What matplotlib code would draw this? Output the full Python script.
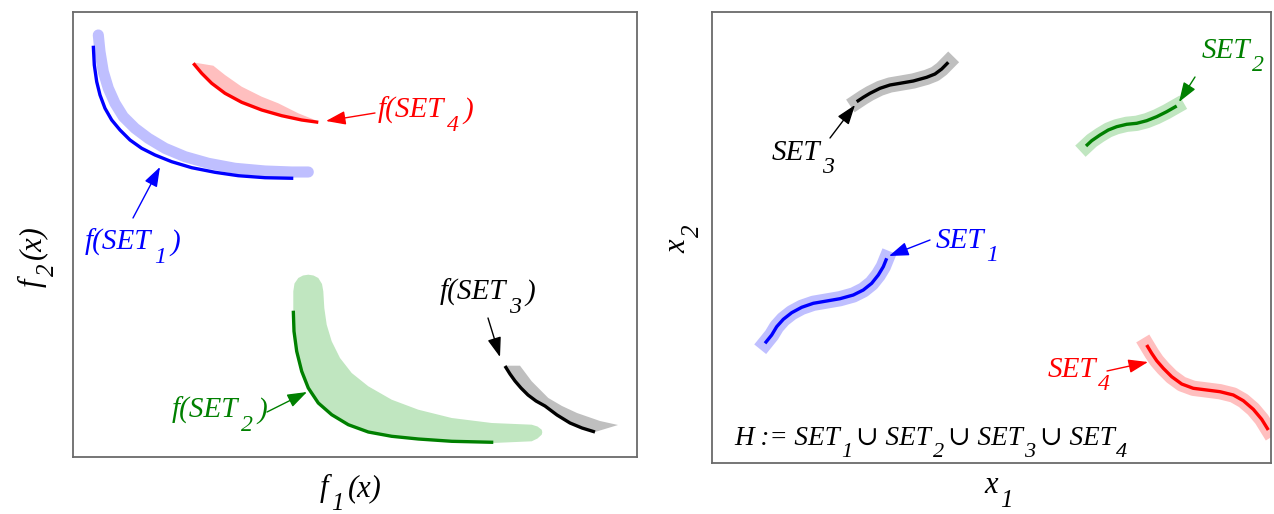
import matplotlib
matplotlib.use("Agg")
import matplotlib.pyplot as plt

FAM = ['Liberation Serif', 'DejaVu Serif']

# ---------------- data (pixel-like units) ----------------
# Left panel: objective space
fset1_x = [93.3, 94.3, 96.7, 100, 105, 111.7, 120, 130, 141.7, 155, 171.7, 191.7, 215, 238.3, 265, 293.3]
fset1_y = [45.7, 65, 81.7, 95, 108.3, 120, 130, 140, 148.3, 155, 161.7, 167.7, 172.3, 175.7, 177.7, 178.3]
fset1_band_x = [98.3, 100, 103.3, 108.3, 115, 123.3, 135, 148.3, 165, 185, 208.3, 235, 265, 291.7, 308.3]
fset1_band_y = [35, 51.7, 71.7, 88.3, 103.3, 116.7, 128.3, 138.3, 148.3, 156.7, 163.3, 168.3, 171, 172, 172]

fset4_x = [193.3, 201.7, 211.7, 225, 241.7, 261.7, 281.7, 301.7, 318.3]
fset4_y = [63.3, 73.3, 83.3, 93.3, 102.3, 110, 115.7, 120, 122.3]
fset4_band_x = [193.3, 195, 213.3, 225, 241.7, 261.7, 278.3, 298.3, 315, 318.3,
                301.7, 281.7, 261.7, 241.7, 225, 211.7, 201.7]
fset4_band_y = [63.3, 62.7, 65.7, 75, 86.7, 96.7, 103.3, 113.3, 120, 122.3,
                120, 115.7, 110, 102.3, 93.3, 83.3, 73.3]

fset2_x = [293.3, 294, 296.7, 301.7, 308.3, 318.3, 331.7, 348.3, 368.3, 391.7, 418.3, 451.7, 493.3]
fset2_y = [310.7, 331.3, 351.3, 371.3, 388, 403, 414.7, 424.7, 432, 436.3, 439, 441.3, 442.3]
fset2_band_x = [293.3, 294.5, 298.3, 303, 308.3, 313.5, 318.3, 322, 323.3, 324.3, 326.7, 331.7, 340,
                351.7, 368.3, 391.7, 418.3, 451.7, 491.7, 531.7, 537.5, 541.7, 542.3, 541.7, 537.5,
                531.7, 493.3, 451.7, 418.3, 391.7, 368.3, 348.3, 331.7, 318.3, 308.3, 301.7, 296.7,
                294, 293.3, 293.3]
fset2_band_y = [291.3, 283.5, 278, 275.5, 274.7, 275.5, 278, 284, 291.3, 308, 324.7, 341.3, 358,
                373, 386.3, 399.7, 409.7, 418, 423, 424.7, 426.5, 429.7, 432.2, 434.7, 438.5,
                441.3, 443, 442, 439.7, 437, 432.7, 425.3, 415.3, 403.7, 388.7, 372, 352,
                331.3, 311.3, 301.3]

fset3_x = [505, 510, 515, 521, 528, 536, 545, 557, 570, 582, 595]
fset3_y = [366, 374, 381, 388, 395, 401, 406, 415, 423, 428, 432]
fset3_band_x = [505, 506.7, 520, 531.7, 548.3, 562, 577, 600, 618, 595, 582, 570, 557, 545, 536, 528, 521, 515, 510]
fset3_band_y = [366, 365.7, 365.7, 381.3, 398, 406, 413, 421, 425, 432, 428, 423, 415, 406, 401, 395, 388, 381, 374]

# Right panel: decision space
set1_x = [765, 771.7, 776.7, 783.3, 791.7, 801.7, 813.3, 826.7, 840, 853.3, 863.3, 871.7, 878.3, 883.3, 886.7]
set1_y = [343.3, 335, 326.7, 319.3, 312.7, 307.3, 303.3, 301, 298.7, 295, 290, 283.3, 275, 266.7, 258.3]
set2_x = [1086, 1091.7, 1100, 1108.3, 1116.7, 1126.7, 1136.7, 1146.7, 1156.7, 1166.7, 1176.7]
set2_y = [146, 140.7, 135, 130, 126.7, 124.3, 123.3, 120.7, 116.7, 111.7, 106]
set3_x = [856.7, 863.3, 870, 880, 890, 900, 913.3, 926.7, 935, 941.7, 948.3]
set3_y = [101.7, 97.3, 93.3, 88.3, 85, 83.3, 81, 77.3, 74, 69, 62.3]
set4_x = [1146.7, 1151.7, 1156.7, 1163.3, 1171.7, 1181.7, 1193.3, 1206.7, 1220, 1233.3, 1243.3, 1253.3, 1261.7, 1268.3]
set4_y = [345, 353.3, 360.7, 368.3, 376.7, 384, 388.3, 390, 391.7, 395, 400.7, 409.3, 419.3, 430]

# ---------------- figure ----------------
W, H = 1274, 514
fig = plt.figure(figsize=(W / 100, H / 100), dpi=100)
axL = fig.add_axes([73 / W, 1 - 457 / H, 564 / W, 445 / H])
axR = fig.add_axes([712 / W, 1 - 463 / H, 559 / W, 451 / H])
axL.set_xlim(73, 637); axL.set_ylim(457, 12)
axR.set_xlim(712, 1271); axR.set_ylim(463, 12)
for ax in (axL, axR):
    ax.set_xticks([]); ax.set_yticks([])
    for sp in ax.spines.values():
        sp.set_color('#6a6a6a'); sp.set_linewidth(1.3)

BLUE, RED, GREEN, BLACK = '#0000ff', '#ff0000', '#008000', '#000000'
LBLUE, LRED, LGREEN, LGRAY = '#bfbfff', '#ffbfbf', '#c0e6c0', '#bfbfbf'

# left panel marks
axL.plot(fset1_band_x, fset1_band_y, color=LBLUE, lw=8, solid_capstyle='round', solid_joinstyle='round')
axL.plot(fset1_x, fset1_y, color=BLUE, lw=2.4, solid_capstyle='butt', solid_joinstyle='round')
axL.fill(fset4_band_x, fset4_band_y, color=LRED, lw=0)
axL.plot(fset4_x, fset4_y, color=RED, lw=2.4, solid_capstyle='butt', solid_joinstyle='round')
axL.fill(fset2_band_x, fset2_band_y, color=LGREEN, lw=0)
axL.plot(fset2_x, fset2_y, color=GREEN, lw=2.4, solid_capstyle='butt', solid_joinstyle='round')
axL.fill(fset3_band_x, fset3_band_y, color=LGRAY, lw=0)
axL.plot(fset3_x, fset3_y, color=BLACK, lw=2.4, solid_capstyle='butt', solid_joinstyle='round')

# right panel marks
for xs, ys, dark, light in [(set1_x, set1_y, BLUE, LBLUE), (set2_x, set2_y, GREEN, LGREEN),
                            (set3_x, set3_y, BLACK, LGRAY), (set4_x, set4_y, RED, LRED)]:
    axR.plot(xs, ys, color=light, lw=11, solid_capstyle='projecting', solid_joinstyle='round')
    axR.plot(xs, ys, color=dark, lw=2.4, solid_capstyle='butt', solid_joinstyle='round')

SUB, DROP = 0.82, 0.40


def rich(ax, x, y, parts, color, size=21, gap_in=2.0, gap_out=3.0):
    t = ax.text(x, y, parts[0][0], color=color, fontsize=size, fontstyle='italic',
                family=FAM, ha='left', va='baseline', clip_on=False)
    prev, prev_sub = t, parts[0][1]
    for s, sub in parts[1:]:
        if sub and not prev_sub:
            dx, dy = gap_in, -DROP * size
        elif prev_sub and not sub:
            dx, dy = gap_out, DROP * size
        else:
            dx, dy = 0, 0
        fs = size * SUB if sub else size
        t = ax.annotate(s, xy=(1, 0), xycoords=prev, xytext=(dx, dy), textcoords='offset points',
                        ha='left', va='bottom', color=color, fontsize=fs, fontstyle='italic',
                        family=FAM, annotation_clip=False)
        prev, prev_sub = t, sub


def rich_v(ax, x, y, parts, color, size=21, gap_in=2.0, gap_out=3.0):
    t = ax.text(x, y, parts[0][0], color=color, fontsize=size, fontstyle='italic', rotation=90,
                family=FAM, ha='right', va='bottom', clip_on=False)
    prev, prev_sub = t, parts[0][1]
    for s, sub in parts[1:]:
        if sub and not prev_sub:
            dx, dy = DROP * size, gap_in
        elif prev_sub and not sub:
            dx, dy = -DROP * size, gap_out
        else:
            dx, dy = 0, 0
        fs = size * SUB if sub else size
        t = ax.annotate(s, xy=(1, 1), xycoords=prev, xytext=(dx, dy), textcoords='offset points',
                        ha='right', va='bottom', rotation=90, color=color, fontsize=fs,
                        fontstyle='italic', family=FAM, annotation_clip=False)
        prev, prev_sub = t, sub


def arrow(ax, tail, head, color):
    ax.annotate('', xy=head, xytext=tail, annotation_clip=False,
                arrowprops=dict(arrowstyle='-|>,head_length=0.8,head_width=0.28', color=color,
                                lw=1.0, shrinkA=0, shrinkB=0, mutation_scale=15))


# left labels
rich(axL, 378, 118, [("f(SET", False), ("4", True), (")", False)], RED)
arrow(axL, (375, 113), (326, 121), RED)
rich(axL, 85, 250, [("f(SET", False), ("1", True), (")", False)], BLUE)
arrow(axL, (133, 218), (160, 167), BLUE)
rich(axL, 172, 418, [("f(SET", False), ("2", True), (")", False)], GREEN)
arrow(axL, (267, 412), (307, 392), GREEN)
rich(axL, 440, 300, [("f(SET", False), ("3", True), (")", False)], BLACK)
arrow(axL, (488, 318), (500, 357), BLACK)

# right labels
rich(axR, 772, 160, [("SET", False), ("3", True)], BLACK, gap_in=1.0)
arrow(axR, (830, 138), (855, 105), BLACK)
rich(axR, 1202, 58, [("SET", False), ("2", True)], GREEN, gap_in=1.0)
arrow(axR, (1195, 77), (1179, 102), GREEN)
rich(axR, 936, 248, [("SET", False), ("1", True)], BLUE, gap_in=1.0)
arrow(axR, (930, 240), (889, 256), BLUE)
rich(axR, 1048, 377, [("SET", False), ("4", True)], RED, gap_in=1.0)
arrow(axR, (1107, 371), (1148, 362), RED)
rich(axR, 734, 445, [("H := SET", False), ("1", True), ("\u222a SET", False), ("2", True),
                     ("\u222a SET", False), ("3", True), ("\u222a SET", False), ("4", True)],
     BLACK, size=19.5, gap_in=1.0, gap_out=3.0)

# axis labels
rich(axL, 320, 496, [("f", False), ("1", True), ("(x)", False)], BLACK, size=22)
rich(axR, 984, 493, [("x", False), ("1", True)], BLACK, size=22)
rich_v(axL, 47, 287, [("f", False), ("2", True), ("(x)", False)], BLACK, size=22)
rich_v(axR, 692, 253, [("x", False), ("2", True)], BLACK, size=22)

fig.savefig('out.png', dpi=100)
